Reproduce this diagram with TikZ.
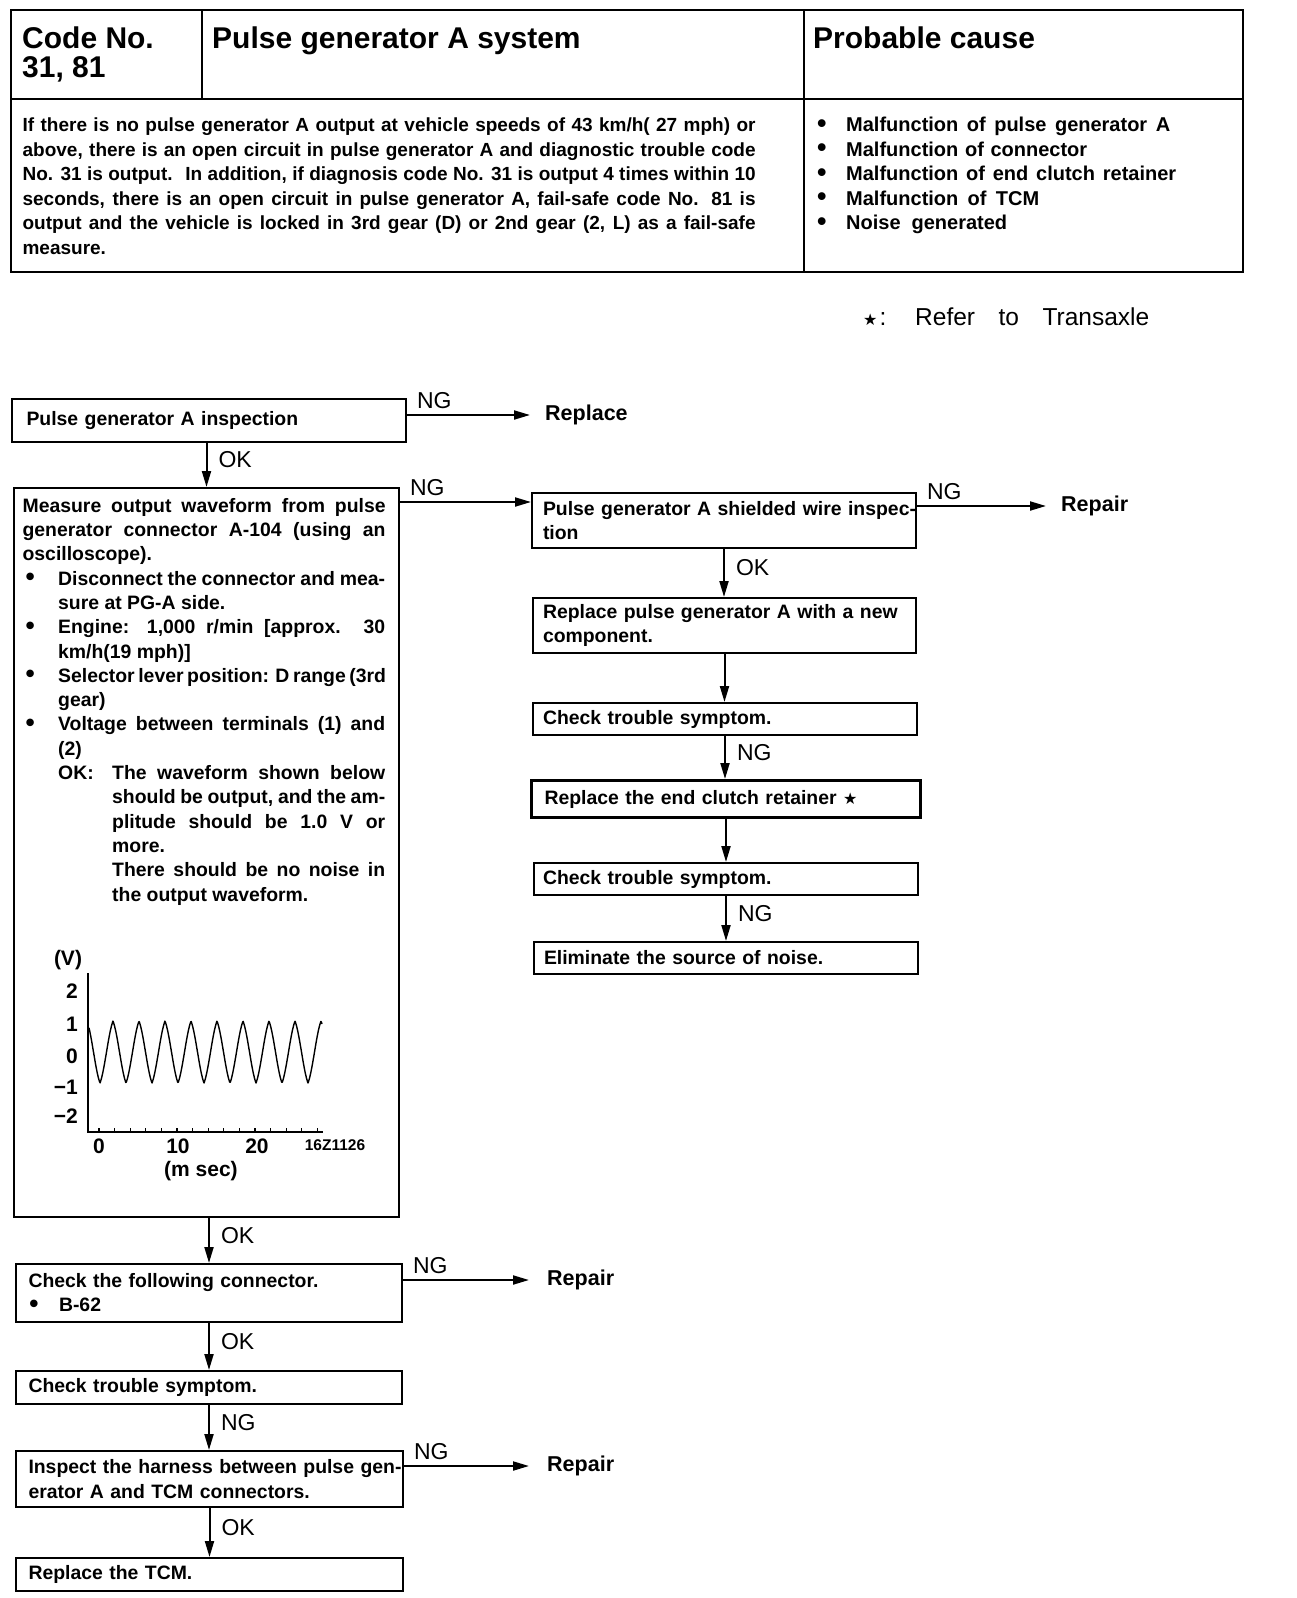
\documentclass[tikz,border=0pt]{standalone}
\usepackage{graphicx}
\usepackage{fontspec}
\setmainfont{Liberation Sans}
\newfontfamily\symf{DejaVu Sans}
\usetikzlibrary{arrows.meta}
\newcommand\jl[2]{\makebox[#1pt][s]{#2}}
\newcommand\bigbul{\raisebox{-0.5pt}{\scalebox{1.35}{\textbullet}}}
\newcommand\strsym{{\symf\fontsize{16}{16}\selectfont ★}}
\newcommand\fhd{\fontsize{30}{29}\selectfont\bfseries}
\newcommand\ftb{\fontsize{19}{24.5}\selectfont\bfseries}
\newcommand\fpc{\fontsize{20}{24.5}\selectfont\bfseries}
\newcommand\fbx{\fontsize{19.4}{24.3}\selectfont\bfseries}
\newcommand\flb{\fontsize{23}{23}\selectfont}
\newcommand\fres{\fontsize{21.5}{21.5}\selectfont\bfseries}
\newcommand\fch{\fontsize{21}{21}\selectfont\bfseries}
\newcommand\fnote{\fontsize{24.5}{24.5}\selectfont}
\begin{document}
\begin{tikzpicture}[x=1pt,y=-1pt,
  tbl/.style={line width=2.5pt},
  box/.style={draw, line width=2pt, anchor=north west, align=left, inner ysep=0pt, font=\fbx},
  arr/.style={line width=2pt, -{Triangle[length=16pt,width=9pt]}},
  lbl/.style={inner sep=0pt, font=\flb},
  vlbl/.style={lbl, anchor=west, xshift=11pt, yshift=5pt},
  hlbl/.style={lbl, pos=0, anchor=south west, xshift=9pt, yshift=5pt},
  res/.style={anchor=west, inner ysep=0pt, font=\fres},
  txt/.style={anchor=north west, inner sep=0pt, align=left},
  chl/.style={inner sep=0pt, font=\fch}]
\useasboundingbox (0,0) rectangle (1296,1598);
\fill[white] (0,0) rectangle (1296,1598);

% ---------- table ----------
\draw[tbl] (11,10) rectangle (1243,272);
\draw[tbl] (11,99) -- (1243,99);
\draw[tbl] (202,10) -- (202,99);
\draw[tbl] (804,10) -- (804,272);

\node[txt, font=\fhd] (code) at (22,26.5) {Code No.\\31, 81};
\node[txt, font=\fhd] (sys) at (212,26.5) {Pulse generator A system};
\node[txt, font=\fhd] (pc) at (813,26.5) {Probable cause};

\node[txt, font=\ftb] (desc) at (22.4,118) {%
\jl{733}{If there is no pulse generator A output at vehicle speeds of 43 km/h( 27 mph) or}\\
\jl{733}{above, there is an open circuit in pulse generator A and diagnostic trouble code}\\
\jl{733}{No. 31 is output. \ In addition, if diagnosis code No. 31 is output 4 times within 10}\\
\jl{733}{seconds, there is an open circuit in pulse generator A, fail-safe code No. 81 is}\\
\jl{733}{output and the vehicle is locked in 3rd gear (D) or 2nd gear (2, L) as a fail-safe}\\
measure.};

\node[txt, font=\fpc] (cause) at (817,117) {%
\makebox[29pt][l]{\bigbul}\jl{324}{Malfunction of pulse generator A}\\
\makebox[29pt][l]{\bigbul}\jl{241}{Malfunction of connector}\\
\makebox[29pt][l]{\bigbul}\jl{330}{Malfunction of end clutch retainer}\\
\makebox[29pt][l]{\bigbul}\jl{193}{Malfunction of TCM}\\
\makebox[29pt][l]{\bigbul}\jl{161}{Noise generated}};

\node[anchor=base west, inner sep=0pt, font=\fnote] (note) at (863,325)
  {\makebox[52pt][l]{\strsym\hspace{2pt}:}\jl{234}{Refer to Transaxle}};

% ---------- left column ----------
\node[box, minimum width=394pt, minimum height=43pt, inner xsep=14.5pt, text width=365pt] (b1) at (11,398)
  {Pulse generator A inspection};
\node[res, inner xsep=15pt] (rep1) at (530,415) {Replace};
\draw[arr] (b1.east |- rep1) -- node[hlbl] (ng1) {NG} (rep1.west);

\node[box, minimum width=385pt, minimum height=729pt] (b2) at (13,487) {};
\draw[arr] (b1.south -| b2.north) -- node[vlbl] (ok1) {OK} (b2.north);

\node[txt, font=\fbx] (b2t) at (22.4,498) {%
\jl{363}{Measure output waveform from pulse}\\
\jl{363}{generator connector A-104 (using an}\\
oscilloscope).\\
\makebox[35.6pt][l]{\hspace{3pt}\bigbul}\jl{327}{Disconnect the connector and mea-}\\
\hspace*{35.6pt}sure at PG-A side.\\
\makebox[35.6pt][l]{\hspace{3pt}\bigbul}\jl{327}{Engine: 1,000 r/min [approx. 30}\\
\hspace*{35.6pt}km/h(19 mph)]\\
\makebox[35.6pt][l]{\hspace{3pt}\bigbul}\jl{327}{Selector lever position: D range (3rd}\\
\hspace*{35.6pt}gear)\\
\makebox[35.6pt][l]{\hspace{3pt}\bigbul}\jl{327}{Voltage between terminals (1) and}\\
\hspace*{35.6pt}(2)\\
\hspace*{35.6pt}\makebox[54pt][l]{OK:}\jl{273}{The waveform shown below}\\
\hspace*{89.6pt}\jl{273}{should be output, and the am-}\\
\hspace*{89.6pt}\jl{273}{plitude should be 1.0 V or}\\
\hspace*{89.6pt}more.\\
\hspace*{89.6pt}\jl{273}{There should be no noise in}\\
\hspace*{89.6pt}the output waveform.};

% chart
\draw[line width=2pt] (88,973) -- (88,1132) -- (323,1132);
\foreach \t in {0,...,14} \draw[line width=1.3pt] ({99+15.6*\t},1132) -- ({99+15.6*\t},1128);
\draw[line width=1.4pt, line join=round] plot[domain=89:322, samples=400]
  (\x, {1052 - 31*(0.55*asin(cos(13.846*(\x-113)))/90 + 0.45*cos(13.846*(\x-113)))});
\node[chl] (vunit) at (68,960) {(V)};
\node[chl, anchor=east] (y2) at (78,991) {2};
\node[chl, anchor=east] (y1) at (78,1024) {1};
\node[chl, anchor=east] (y0) at (78,1056) {0};
\node[chl, anchor=east] (ym1) at (78,1087) {−1};
\node[chl, anchor=east] (ym2) at (78,1116) {−2};
\node[chl] (x0) at (99,1146) {0};
\node[chl] (x10) at (178,1146) {10};
\node[chl] (x20) at (257,1146) {20};
\node[inner sep=0pt, font=\fontsize{15.5}{15.5}\selectfont\bfseries] (fig) at (335,1145) {16Z1126};
\node[chl] (msec) at (201,1171) {(m sec)};

% lower left
\node[box, minimum width=386pt, minimum height=58pt, inner xsep=12.5pt, text width=361pt] (b9) at (15,1263)
  {\jl{324}{Check the following connector.}\\\makebox[30.5pt][l]{\hspace{1pt}\bigbul}B-62};
\draw[arr] (b2.south -| b9.north) -- node[vlbl] (ok3) {OK} (b9.north);
\node[res, inner xsep=18pt] (rep3) at (529,1280) {Repair};
\draw[arr] (b9.east |- rep3) -- node[hlbl] (ng7) {NG} (rep3.west);

\node[box, minimum width=386pt, minimum height=33pt, inner xsep=12.5pt, text width=361pt] (b10) at (15,1370)
  {\jl{239}{Check trouble symptom.}};
\draw[arr] (b9.south) -- node[vlbl] (ok4) {OK} (b9.south |- b10.north);

\node[box, minimum width=387pt, minimum height=56pt, inner xsep=12.5pt, text width=362pt] (b11) at (15,1450)
  {\jl{362}{Inspect the harness between pulse gen-}\\erator A and TCM connectors.};
\draw[arr] (b10.south) -- node[vlbl] (ng6) {NG} (b10.south |- b11.north);
\node[res, inner xsep=18pt] (rep4) at (529,1466) {Repair};
\draw[arr] (b11.east |- rep4) -- node[hlbl] (ng8) {NG} (rep4.west);

\node[box, minimum width=387pt, minimum height=33pt, inner xsep=12.5pt, text width=362pt] (b12) at (15,1557)
  {Replace the TCM.};
\draw[arr] (b11.south) -- node[vlbl] (ok5) {OK} (b11.south |- b12.north);

% ---------- right column ----------
\node[box, minimum width=384pt, minimum height=55pt, inner xsep=11pt, text width=362pt] (b3) at (531,492)
  {\jl{362}{Pulse generator A shielded wire inspec-}\\tion};
\coordinate (n2) at ([yshift=-15pt]b2.north east);
\draw[arr] (n2) -- node[hlbl] (ng2) {NG} (n2 -| b3.west);
\node[res, inner xsep=15pt] (rep2) at (1046,506) {Repair};
\draw[arr] (b3.east |- rep2) -- node[hlbl] (ng3) {NG} (rep2.west);

\node[box, minimum width=383pt, minimum height=55pt, inner xsep=10pt, text width=363pt] (b4) at (532,597)
  {\jl{363}{Replace pulse generator A with a new}\\component.};
\draw[arr] (b3.south) -- node[vlbl] (ok2) {OK} (b3.south |- b4.north);

\node[box, minimum width=384pt, minimum height=32pt, inner xsep=10pt, text width=364pt] (b5) at (532,702)
  {\jl{237}{Check trouble symptom.}};
\draw[arr] (b4.south) -- (b4.south |- b5.north);

\node[box, line width=3pt, minimum width=389pt, minimum height=37pt, inner xsep=13pt, text width=363pt] (b6) at (530,779)
  {\jl{330}{Replace the end clutch retainer \strsym}};
\draw[arr] (b5.south) -- node[vlbl] (ng4) {NG} (b5.south |- b6.north);

\node[box, minimum width=384pt, minimum height=32pt, inner xsep=9pt, text width=366pt] (b7) at (533,862)
  {\jl{237}{Check trouble symptom.}};
\draw[arr] (b6.south) -- (b6.south |- b7.north);

\node[box, minimum width=384pt, minimum height=32pt, inner xsep=10pt, text width=364pt] (b8) at (533,941)
  {\jl{292}{Eliminate the source of noise.}};
\draw[arr] (b7.south) -- node[vlbl] (ng5) {NG} (b7.south |- b8.north);
\end{tikzpicture}
\end{document}
